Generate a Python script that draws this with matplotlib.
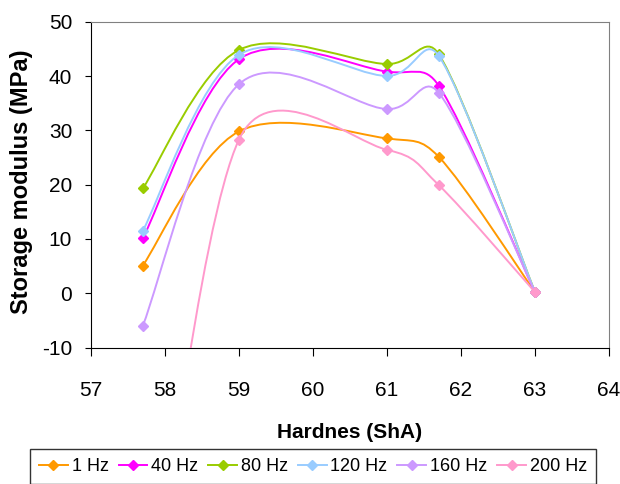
import numpy as np
import matplotlib
matplotlib.use('Agg')
import matplotlib.pyplot as plt
from matplotlib.path import Path
from matplotlib.patches import PathPatch
from matplotlib.lines import Line2D
from matplotlib import font_manager

plt.rcParams['axes.unicode_minus'] = False
names = set(f.name for f in font_manager.fontManager.ttflist)
narrow = 'Liberation Sans Narrow' if 'Liberation Sans Narrow' in names else 'Liberation Sans'

hardness = [57.7, 59, 61, 61.7, 63]
labels = ['1 Hz', '40 Hz', '80 Hz', '120 Hz', '160 Hz', '200 Hz']
s1 = [5.1, 29.8, 28.5, 25.1, 0.2]
s40 = [10.1, 43.1, 40.8, 38.2, 0.2]
s80 = [19.3, 44.8, 42.2, 44.0, 0.2]
s120 = [11.5, 43.9, 40.0, 43.7, 0.2]
s160 = [-6.0, 38.5, 33.9, 36.9, 0.2]
s200 = [-70.0, 28.3, 26.4, 19.9, 0.2]
series = [s1, s40, s80, s120, s160, s200]
colors = ['#FF9900', '#FF00FF', '#99CC00', '#99CCFF', '#CC99FF', '#FF99CC']

def smooth_path(ax, x, y):
    # excel-like smoothed line, tangents clamped using screen distances
    p = np.column_stack([x, y]).astype(float)
    q = ax.transData.transform(p)
    n = len(p)
    verts = [p[0]]
    codes = [Path.MOVETO]
    for i in range(n - 1):
        a, b = max(i - 1, 0), min(i + 2, n - 1)
        d12 = np.hypot(*(q[i + 1] - q[i]))
        d02 = np.hypot(*(q[i + 1] - q[a]))
        d13 = np.hypot(*(q[b] - q[i]))
        f1 = 1 / 6 if d02 / 6 < d12 / 2 else d12 / (2 * d02)
        f2 = 1 / 6 if d13 / 6 < d12 / 2 else d12 / (2 * d13)
        c1 = p[i] + f1 * (p[i + 1] - p[a])
        c2 = p[i + 1] - f2 * (p[b] - p[i])
        verts += [c1, c2, p[i + 1]]
        codes += [Path.CURVE4] * 3
    return Path(verts, codes)

fig = plt.figure(figsize=(6.2, 4.84), dpi=100)
W, H = 620, 484
ax = fig.add_axes([91 / W, 1 - 347.5 / H, 518 / W, 325.8 / H])
ax.set_xlim(57, 64)
ax.set_ylim(-10, 50)

for i, (s, c) in enumerate(zip(series, colors)):
    patch = PathPatch(smooth_path(ax, hardness, s), fill=False, edgecolor=c,
                      lw=1.4, transform=ax.transData, zorder=2 + i)
    ax.add_patch(patch)
    ax.plot(hardness, s, 'D', color=c, ms=5.5, ls='none', zorder=2 + i)

ax.set_xticks(range(57, 65))
ax.set_yticks(range(-10, 51, 10))
for sp in ['top', 'right']:
    ax.spines[sp].set_color('#808080')
for sp in ['left', 'bottom']:
    ax.spines[sp].set_color('black')
ax.tick_params(axis='x', direction='out', length=6, pad=18, labelsize=15)
ax.tick_params(axis='y', direction='out', length=4.5, pad=9, labelsize=15)
for lab in ax.get_xticklabels() + ax.get_yticklabels():
    lab.set_family(narrow)

fig.text(22 / W, 1 - 182 / H, 'Storage modulus (MPa)', rotation=90,
         ha='center', va='center', fontsize=17, fontweight='bold',
         family='Liberation Sans')
fig.text(350 / W, 1 - 433 / H, 'Hardnes (ShA)', ha='center', va='center',
         fontsize=15, fontweight='bold', family='Liberation Sans')

handles = [Line2D([], [], color=c, marker='D', ms=5.5, lw=1.4) for c in colors]
leg = fig.legend(handles, labels, loc='upper left', ncol=6, mode='expand',
                 bbox_to_anchor=(30 / W, 0, 566 / W, 1 - 449 / H),
                 prop={'family': narrow, 'size': 13}, frameon=True,
                 fancybox=False, edgecolor='black', handlelength=1.6,
                 handletextpad=0.2, columnspacing=0.4, borderpad=0.5,
                 borderaxespad=0)
leg.get_frame().set_linewidth(1.0)

fig.savefig('out.png', dpi=100)
